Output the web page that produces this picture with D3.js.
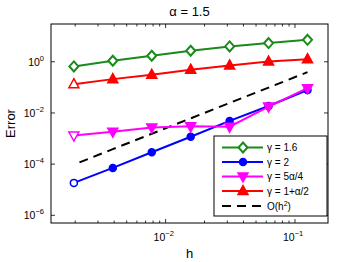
<!DOCTYPE html>
<html>
<head>
<meta charset="utf-8">
<script src="https://cdn.jsdelivr.net/npm/d3@7"></script>
<style>
  body { margin: 0; background: #fff; }
  text { font-family: "Liberation Sans", Arial, sans-serif; fill: #000; }
</style>
</head>
<body>
<svg id="chart" width="363" height="262"></svg>
<script>
// step sizes
const hValues = [1/512, 1/256, 1/128, 1/64, 1/32, 1/16, 1/8];

// errors
const errGamma16 = [0.66, 1.1, 1.72, 2.7, 4.0, 5.4, 7.2];
const errGamma2 = [1.85e-5, 7.1e-5, 2.9e-4, 1.18e-3, 4.9e-3, 1.87e-2, 7.9e-2];
const errGamma5a4 = [1.31e-3, 1.86e-3, 2.7e-3, 3.0e-3, 2.9e-3, 1.77e-2, 9.3e-2];
const errGamma1a2 = [0.133, 0.21, 0.31, 0.49, 0.72, 1.02, 1.26];
const refH2 = [9.6e-5, 3.85e-4, 1.54e-3, 6.15e-3, 2.46e-2, 9.84e-2, 0.394];

const yTickExp = [0, -2, -4, -6];
const xTickExp = [-2, -1];

const series = [
  { name: "\u03b3 = 1.6", values: errGamma16, color: "#1a8a1a", marker: "diamond" },
  { name: "\u03b3 = 2", values: errGamma2, color: "#0000ff", marker: "circle" },
  { name: "\u03b3 = 5\u03b1/4", values: errGamma5a4, color: "#ff00ff", marker: "tridown" },
  { name: "\u03b3 = 1+\u03b1/2", values: errGamma1a2, color: "#ff0000", marker: "triup" }
];

const svg = d3.select("#chart");
const pLeft = 51, pRight = 328, pTop = 24, pBottom = 223;

const x = d3.scaleLog().domain([0.0013, 0.18]).range([pLeft, pRight]);
const y = d3.scaleLog().domain([5e-7, 30]).range([pBottom, pTop]);

// plot background + box
svg.append("rect")
  .attr("x", pLeft).attr("y", pTop)
  .attr("width", pRight - pLeft).attr("height", pBottom - pTop)
  .attr("fill", "#fff").attr("stroke", "#000").attr("stroke-width", 1);

// x ticks (major + minor), inward on bottom and top
const xMinor = [];
for (let e = -3; e <= -1; e++) {
  for (let m = 1; m <= 9; m++) {
    const v = m * Math.pow(10, e);
    if (v >= 0.0013 && v <= 0.18) xMinor.push({ v: v, major: m === 1 });
  }
}
xMinor.forEach(t => {
  const len = t.major ? 4 : 2.5;
  const px = x(t.v);
  svg.append("line").attr("x1", px).attr("x2", px).attr("y1", pBottom).attr("y2", pBottom - len)
    .attr("stroke", "#000").attr("stroke-width", 0.8);
  svg.append("line").attr("x1", px).attr("x2", px).attr("y1", pTop).attr("y2", pTop + len)
    .attr("stroke", "#000").attr("stroke-width", 0.8);
});

// y ticks
yTickExp.forEach(e => {
  const py = y(Math.pow(10, e));
  svg.append("line").attr("x1", pLeft).attr("x2", pLeft + 4).attr("y1", py).attr("y2", py)
    .attr("stroke", "#000").attr("stroke-width", 0.8);
  svg.append("line").attr("x1", pRight).attr("x2", pRight - 4).attr("y1", py).attr("y2", py)
    .attr("stroke", "#000").attr("stroke-width", 0.8);
  const t = svg.append("text")
    .attr("x", pLeft - 7).attr("y", py + 4)
    .attr("text-anchor", "end")
    .attr("font-size", 10.5);
  t.append("tspan").text("10");
  t.append("tspan").attr("dy", -5).attr("font-size", 7.5).text(e === 0 ? "0" : "\u2212" + (-e));
});

// x tick labels
xTickExp.forEach(e => {
  const px = x(Math.pow(10, e));
  const t = svg.append("text")
    .attr("x", px - 12).attr("y", pBottom + 18)
    .attr("font-size", 10.5);
  t.append("tspan").text("10");
  t.append("tspan").attr("dy", -5).attr("font-size", 7.5).text("\u2212" + (-e));
});

// title and axis labels
svg.append("text").attr("x", (pLeft + pRight) / 2).attr("y", 16)
  .attr("text-anchor", "middle").attr("font-size", 13).text("\u03b1 = 1.5");
svg.append("text").attr("x", (pLeft + pRight) / 2).attr("y", 258)
  .attr("text-anchor", "middle").attr("font-size", 13).text("h");
svg.append("text")
  .attr("transform", "translate(15," + ((pTop + pBottom) / 2) + ") rotate(-90)")
  .attr("text-anchor", "middle").attr("font-size", 13).text("Error");

const line = d3.line().x((d, i) => x(hValues[i])).y(d => y(d));

function drawMarker(g, type, cx, cy, color, fill) {
  if (type === "diamond") {
    g.append("path")
      .attr("d", `M${cx},${cy - 5}L${cx + 4.5},${cy}L${cx},${cy + 5}L${cx - 4.5},${cy}Z`)
      .attr("fill", fill).attr("stroke", color).attr("stroke-width", 2);
  } else if (type === "circle") {
    g.append("circle").attr("cx", cx).attr("cy", cy).attr("r", 3.5)
      .attr("fill", fill).attr("stroke", color).attr("stroke-width", 1.5);
  } else if (type === "triup") {
    g.append("path")
      .attr("d", `M${cx},${cy - 5.5}L${cx + 5},${cy + 3.5}L${cx - 5},${cy + 3.5}Z`)
      .attr("fill", fill).attr("stroke", color).attr("stroke-width", 1.5);
  } else if (type === "tridown") {
    g.append("path")
      .attr("d", `M${cx},${cy + 5.5}L${cx + 5},${cy - 3.5}L${cx - 5},${cy - 3.5}Z`)
      .attr("fill", fill).attr("stroke", color).attr("stroke-width", 1.5);
  }
}

const plot = svg.append("g");

// reference slope line
plot.append("path")
  .datum(refH2)
  .attr("d", line)
  .attr("fill", "none").attr("stroke", "#000").attr("stroke-width", 2)
  .attr("stroke-dasharray", "9,6").attr("stroke-dashoffset", 9);

// draw the series
[series[1], series[2], series[3], series[0]].forEach(s => {
  plot.append("path")
    .datum(s.values)
    .attr("d", line)
    .attr("fill", "none").attr("stroke", s.color).attr("stroke-width", 2);
  s.values.forEach((v, i) => {
    let fill = s.color;
    if (s.marker === "diamond" || i === 0) fill = "#fff";
    drawMarker(plot, s.marker, x(hValues[i]), y(v), s.color, fill);
  });
});

// legend
const lg = svg.append("g");
lg.append("rect").attr("x", 214).attr("y", 136).attr("width", 113).attr("height", 80)
  .attr("fill", "#fff").attr("stroke", "#000").attr("stroke-width", 1);
const rowY = [147.5, 162, 176.5, 191, 206];
series.forEach((s, i) => {
  lg.append("line").attr("x1", 222).attr("x2", 263).attr("y1", rowY[i]).attr("y2", rowY[i])
    .attr("stroke", s.color).attr("stroke-width", 2);
  drawMarker(lg, s.marker, 243, rowY[i], s.color, s.marker === "diamond" ? "#fff" : s.color);
  lg.append("text").attr("x", 267).attr("y", rowY[i] + 3.5).attr("font-size", 10).text(s.name);
});
lg.append("line").attr("x1", 222).attr("x2", 263).attr("y1", rowY[4]).attr("y2", rowY[4])
  .attr("stroke", "#000").attr("stroke-width", 2).attr("stroke-dasharray", "9,6");
const ot = lg.append("text").attr("x", 267).attr("y", rowY[4] + 3.5).attr("font-size", 10);
ot.append("tspan").text("O(h");
ot.append("tspan").attr("dy", -4).attr("font-size", 7).text("2");
ot.append("tspan").attr("dy", 4).text(")");
</script>
</body>
</html>
